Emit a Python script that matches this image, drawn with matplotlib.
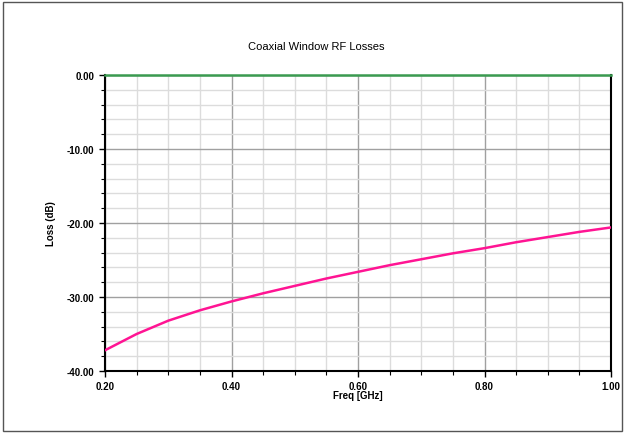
import matplotlib.pyplot as plt
from matplotlib.ticker import MultipleLocator, FormatStrFormatter
from matplotlib.patches import Rectangle

plt.rcParams['font.family'] = ['Liberation Sans', 'DejaVu Sans']

# Data
freq = [0.20, 0.25, 0.30, 0.35, 0.40, 0.45, 0.50, 0.55, 0.60, 0.65, 0.70,
        0.75, 0.80, 0.85, 0.90, 0.95, 1.00]
loss_refl = [-37.2, -35.0, -33.2, -31.8, -30.6, -29.5, -28.5, -27.5, -26.6,
             -25.7, -24.9, -24.1, -23.4, -22.6, -21.9, -21.2, -20.6]
freq_trans = [0.20, 0.70, 0.70, 1.00]
loss_trans = [0.0, 0.0, -0.05, -0.05]

fig = plt.figure(figsize=(6.26, 4.35), dpi=100)
fig.patches.append(Rectangle((3 / 626, 3 / 435), 619 / 626, 429 / 435,
                             transform=fig.transFigure, fill=False,
                             edgecolor='#555555', linewidth=1))

ax = fig.add_axes([105 / 626, 63 / 435, 506 / 626, 296 / 435])

ax.plot(freq, loss_refl, color='#ff1493', linewidth=1.8, zorder=3)
ax.plot(freq_trans, loss_trans, color='#3a9a50', linewidth=1.8, zorder=3,
        clip_on=False)

ax.set_xlim(0.2, 1.0)
ax.set_ylim(-40, 0)

ax.xaxis.set_major_locator(MultipleLocator(0.2))
ax.xaxis.set_minor_locator(MultipleLocator(0.05))
ax.yaxis.set_major_locator(MultipleLocator(10))
ax.yaxis.set_minor_locator(MultipleLocator(2))
ax.xaxis.set_major_formatter(FormatStrFormatter('%.2f'))
ax.yaxis.set_major_formatter(FormatStrFormatter('%.2f'))

ax.grid(which='major', color='#a0a0a0', linewidth=1.0)
ax.grid(which='minor', color='#dcdcdc', linewidth=1.0)
ax.set_axisbelow(True)

ax.tick_params(which='both', direction='out', colors='black', labelsize=7)
ax.tick_params(which='major', length=4, width=1)
ax.tick_params(which='minor', length=3, width=0.8)
for lbl in ax.get_xticklabels() + ax.get_yticklabels():
    lbl.set_fontweight('bold')

ax.spines['top'].set_visible(False)
for side in ['left', 'bottom', 'right']:
    ax.spines[side].set_linewidth(1.5)
    ax.spines[side].set_color('black')

ax.set_xlabel('Freq [GHz]', fontsize=7, fontweight='bold', labelpad=-1)
ax.set_ylabel('Loss (dB)', fontsize=7, fontweight='bold', labelpad=8)
fig.text(316 / 626, 388 / 435, 'Coaxial Window RF Losses',
         ha='center', va='center', fontsize=8)

fig.savefig('out.png', dpi=100)
